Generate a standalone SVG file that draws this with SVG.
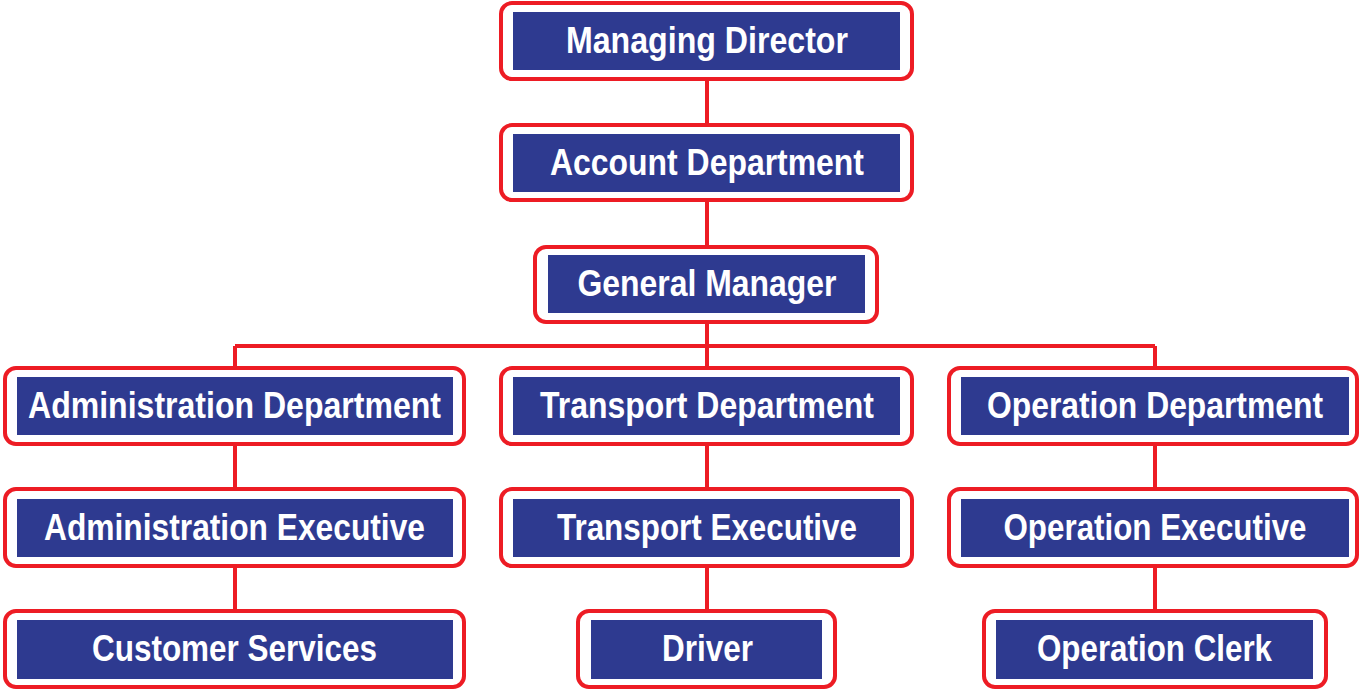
<svg xmlns="http://www.w3.org/2000/svg" width="1361" height="691" viewBox="0 0 1361 691">
<style>
.o{fill:#fff;stroke:#ED1C24;stroke-width:4}
.b{fill:#2E3A90}
.t{font-family:"Liberation Sans",Arial,sans-serif;font-weight:bold;font-size:36px;fill:#fff;text-anchor:middle}
.c{stroke:#ED1C24;stroke-width:4;fill:none}
</style>
<rect width="1361" height="691" fill="#fff"/>
<g id="connectors">
<path class="c" d="M707 79V125M707 200V247M707 322V368M235 346H1155M235 346V368M1155 346V368M235 444V489M707 444V489M1155 444V489M235 566V611M707 566V611M1155 566V611"/>
</g>
<g id="managing-director"><rect class="o" x="501" y="3" width="411" height="76" rx="11"/><rect class="b" x="513" y="12" width="387" height="58"/><text class="t" x="707" y="53" textLength="282" lengthAdjust="spacingAndGlyphs">Managing Director</text></g>
<g id="account-department"><rect class="o" x="501" y="125" width="411" height="75" rx="11"/><rect class="b" x="513" y="134" width="387" height="58"/><text class="t" x="707" y="175" textLength="314" lengthAdjust="spacingAndGlyphs">Account Department</text></g>
<g id="general-manager"><rect class="o" x="535" y="247" width="342" height="75" rx="11"/><rect class="b" x="548" y="255" width="317" height="58"/><text class="t" x="707" y="296" textLength="259" lengthAdjust="spacingAndGlyphs">General Manager</text></g>
<g id="administration-department"><rect class="o" x="5" y="368" width="459" height="76" rx="11"/><rect class="b" x="17" y="377" width="436" height="58"/><text class="t" x="234.5" y="418" textLength="413" lengthAdjust="spacingAndGlyphs">Administration Department</text></g>
<g id="transport-department"><rect class="o" x="501" y="368" width="411" height="76" rx="11"/><rect class="b" x="513" y="377" width="387" height="58"/><text class="t" x="707" y="418" textLength="334" lengthAdjust="spacingAndGlyphs">Transport Department</text></g>
<g id="operation-department"><rect class="o" x="949" y="368" width="408" height="76" rx="11"/><rect class="b" x="961" y="377" width="388" height="58"/><text class="t" x="1155" y="418" textLength="336" lengthAdjust="spacingAndGlyphs">Operation Department</text></g>
<g id="administration-executive"><rect class="o" x="5" y="489" width="459" height="77" rx="11"/><rect class="b" x="17" y="499" width="436" height="58"/><text class="t" x="234.5" y="540" textLength="381" lengthAdjust="spacingAndGlyphs">Administration Executive</text></g>
<g id="transport-executive"><rect class="o" x="501" y="489" width="411" height="77" rx="11"/><rect class="b" x="513" y="499" width="387" height="58"/><text class="t" x="707" y="540" textLength="300" lengthAdjust="spacingAndGlyphs">Transport Executive</text></g>
<g id="operation-executive"><rect class="o" x="949" y="489" width="408" height="77" rx="11"/><rect class="b" x="961" y="499" width="388" height="58"/><text class="t" x="1155" y="540" textLength="303" lengthAdjust="spacingAndGlyphs">Operation Executive</text></g>
<g id="customer-services"><rect class="o" x="5" y="611" width="459" height="76" rx="11"/><rect class="b" x="17" y="620" width="436" height="59"/><text class="t" x="234.5" y="661" textLength="285" lengthAdjust="spacingAndGlyphs">Customer Services</text></g>
<g id="driver"><rect class="o" x="578" y="611" width="257" height="76" rx="11"/><rect class="b" x="591" y="620" width="231" height="59"/><text class="t" x="707.5" y="661" textLength="91" lengthAdjust="spacingAndGlyphs">Driver</text></g>
<g id="operation-clerk"><rect class="o" x="984" y="611" width="342" height="76" rx="11"/><rect class="b" x="996" y="620" width="317" height="59"/><text class="t" x="1154.5" y="661" textLength="235" lengthAdjust="spacingAndGlyphs">Operation Clerk</text></g>
</svg>
